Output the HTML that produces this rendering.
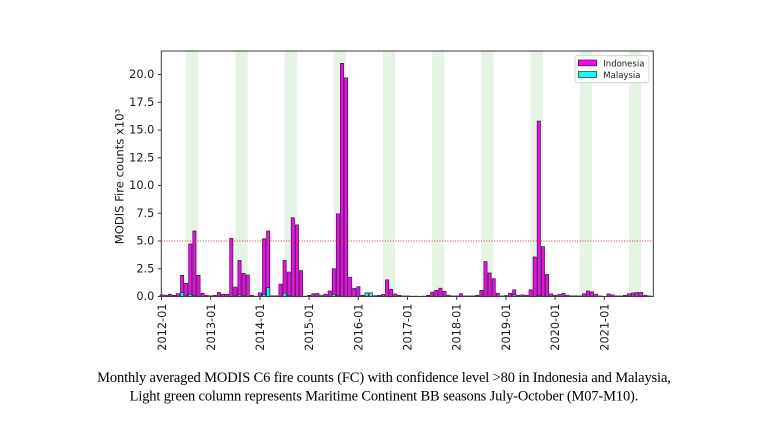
<!DOCTYPE html>
<html><head><meta charset="utf-8"><style>
html,body{margin:0;padding:0;background:#fff;}
svg{display:block;}
.i{fill:#ff00ff;stroke:#262626;stroke-width:0.7;vector-effect:non-scaling-stroke;}
.m{fill:#00ffff;stroke:#262626;stroke-width:0.7;vector-effect:non-scaling-stroke;}
.t{font-family:"DejaVu Sans","Liberation Sans",sans-serif;font-size:11.3px;fill:#1a1a1a;}
</style></head><body>
<svg width="768" height="432" viewBox="0 0 768 432" xmlns="http://www.w3.org/2000/svg">
<rect width="768" height="432" fill="#fff"/>
<!-- green seasons -->
<g transform="translate(161.5,0) scale(4.1,1)" fill="#e5f4e5">
<rect x="6" y="51" width="3" height="245.5"/>
<rect x="18" y="51" width="3" height="245.5"/>
<rect x="30" y="51" width="3" height="245.5"/>
<rect x="42" y="51" width="3" height="245.5"/>
<rect x="54" y="51" width="3" height="245.5"/>
<rect x="66" y="51" width="3" height="245.5"/>
<rect x="78" y="51" width="3" height="245.5"/>
<rect x="90" y="51" width="3" height="245.5"/>
<rect x="102" y="51" width="3" height="245.5"/>
<rect x="114" y="51" width="3" height="245.5"/>
</g>
<!-- Indonesia bars -->
<g transform="translate(160,296.5) scale(4.1,-11.1)">
<rect class="i" x="0" y="0" width="0.78" height="0.15"/>
<rect class="i" x="1" y="0" width="0.78" height="0.12"/>
<rect class="i" x="2" y="0" width="0.78" height="0.2"/>
<rect class="i" x="3" y="0" width="0.78" height="0.1"/>
<rect class="i" x="4" y="0" width="0.78" height="0.25"/>
<rect class="i" x="5" y="0" width="0.78" height="1.9"/>
<rect class="i" x="6" y="0" width="0.78" height="1.18"/>
<rect class="i" x="7" y="0" width="0.78" height="4.73"/>
<rect class="i" x="8" y="0" width="0.78" height="5.9"/>
<rect class="i" x="9" y="0" width="0.78" height="1.9"/>
<rect class="i" x="10" y="0" width="0.78" height="0.3"/>
<rect class="i" x="11" y="0" width="0.78" height="0.12"/>
<rect class="i" x="12" y="0" width="0.78" height="0.06"/>
<rect class="i" x="13" y="0" width="0.78" height="0.1"/>
<rect class="i" x="14" y="0" width="0.78" height="0.36"/>
<rect class="i" x="15" y="0" width="0.78" height="0.2"/>
<rect class="i" x="16" y="0" width="0.78" height="0.2"/>
<rect class="i" x="17" y="0" width="0.78" height="5.24"/>
<rect class="i" x="18" y="0" width="0.78" height="0.85"/>
<rect class="i" x="19" y="0" width="0.78" height="3.24"/>
<rect class="i" x="20" y="0" width="0.78" height="2.09"/>
<rect class="i" x="21" y="0" width="0.78" height="1.94"/>
<rect class="i" x="22" y="0" width="0.78" height="0.12"/>
<rect class="i" x="23" y="0" width="0.78" height="0.03"/>
<rect class="i" x="24" y="0" width="0.78" height="0.33"/>
<rect class="i" x="25" y="0" width="0.78" height="5.2"/>
<rect class="i" x="26" y="0" width="0.78" height="5.9"/>
<rect class="i" x="27" y="0" width="0.78" height="0.06"/>
<rect class="i" x="28" y="0" width="0.78" height="0.06"/>
<rect class="i" x="29" y="0" width="0.78" height="1.12"/>
<rect class="i" x="30" y="0" width="0.78" height="3.24"/>
<rect class="i" x="31" y="0" width="0.78" height="2.2"/>
<rect class="i" x="32" y="0" width="0.78" height="7.1"/>
<rect class="i" x="33" y="0" width="0.78" height="6.45"/>
<rect class="i" x="34" y="0" width="0.78" height="2.33"/>
<rect class="i" x="35" y="0" width="0.78" height="0.03"/>
<rect class="i" x="36" y="0" width="0.78" height="0.1"/>
<rect class="i" x="37" y="0" width="0.78" height="0.25"/>
<rect class="i" x="38" y="0" width="0.78" height="0.27"/>
<rect class="i" x="39" y="0" width="0.78" height="0.1"/>
<rect class="i" x="40" y="0" width="0.78" height="0.2"/>
<rect class="i" x="41" y="0" width="0.78" height="0.5"/>
<rect class="i" x="42" y="0" width="0.78" height="2.5"/>
<rect class="i" x="43" y="0" width="0.78" height="7.45"/>
<rect class="i" x="44" y="0" width="0.78" height="21.0"/>
<rect class="i" x="45" y="0" width="0.78" height="19.7"/>
<rect class="i" x="46" y="0" width="0.78" height="1.74"/>
<rect class="i" x="47" y="0" width="0.78" height="0.72"/>
<rect class="i" x="48" y="0" width="0.78" height="0.88"/>
<rect class="i" x="49" y="0" width="0.78" height="0.1"/>
<rect class="i" x="50" y="0" width="0.78" height="0.2"/>
<rect class="i" x="51" y="0" width="0.78" height="0.2"/>
<rect class="i" x="52" y="0" width="0.78" height="0.07"/>
<rect class="i" x="53" y="0" width="0.78" height="0.1"/>
<rect class="i" x="54" y="0" width="0.78" height="0.18"/>
<rect class="i" x="55" y="0" width="0.78" height="1.5"/>
<rect class="i" x="56" y="0" width="0.78" height="0.64"/>
<rect class="i" x="57" y="0" width="0.78" height="0.23"/>
<rect class="i" x="58" y="0" width="0.78" height="0.1"/>
<rect class="i" x="59" y="0" width="0.78" height="0.05"/>
<rect class="i" x="60" y="0" width="0.78" height="0.05"/>
<rect class="i" x="61" y="0" width="0.78" height="0.03"/>
<rect class="i" x="62" y="0" width="0.78" height="0.03"/>
<rect class="i" x="63" y="0" width="0.78" height="0.02"/>
<rect class="i" x="64" y="0" width="0.78" height="0.03"/>
<rect class="i" x="65" y="0" width="0.78" height="0.1"/>
<rect class="i" x="66" y="0" width="0.78" height="0.4"/>
<rect class="i" x="67" y="0" width="0.78" height="0.55"/>
<rect class="i" x="68" y="0" width="0.78" height="0.75"/>
<rect class="i" x="69" y="0" width="0.78" height="0.45"/>
<rect class="i" x="70" y="0" width="0.78" height="0.12"/>
<rect class="i" x="71" y="0" width="0.78" height="0.05"/>
<rect class="i" x="72" y="0" width="0.78" height="0.05"/>
<rect class="i" x="73" y="0" width="0.78" height="0.25"/>
<rect class="i" x="74" y="0" width="0.78" height="0.05"/>
<rect class="i" x="75" y="0" width="0.78" height="0.05"/>
<rect class="i" x="76" y="0" width="0.78" height="0.05"/>
<rect class="i" x="77" y="0" width="0.78" height="0.12"/>
<rect class="i" x="78" y="0" width="0.78" height="0.55"/>
<rect class="i" x="79" y="0" width="0.78" height="3.14"/>
<rect class="i" x="80" y="0" width="0.78" height="2.12"/>
<rect class="i" x="81" y="0" width="0.78" height="1.6"/>
<rect class="i" x="82" y="0" width="0.78" height="0.3"/>
<rect class="i" x="83" y="0" width="0.78" height="0.05"/>
<rect class="i" x="84" y="0" width="0.78" height="0.08"/>
<rect class="i" x="85" y="0" width="0.78" height="0.3"/>
<rect class="i" x="86" y="0" width="0.78" height="0.6"/>
<rect class="i" x="87" y="0" width="0.78" height="0.12"/>
<rect class="i" x="88" y="0" width="0.78" height="0.15"/>
<rect class="i" x="89" y="0" width="0.78" height="0.12"/>
<rect class="i" x="90" y="0" width="0.78" height="0.6"/>
<rect class="i" x="91" y="0" width="0.78" height="3.56"/>
<rect class="i" x="92" y="0" width="0.78" height="15.8"/>
<rect class="i" x="93" y="0" width="0.78" height="4.5"/>
<rect class="i" x="94" y="0" width="0.78" height="1.98"/>
<rect class="i" x="95" y="0" width="0.78" height="0.24"/>
<rect class="i" x="96" y="0" width="0.78" height="0.12"/>
<rect class="i" x="97" y="0" width="0.78" height="0.18"/>
<rect class="i" x="98" y="0" width="0.78" height="0.3"/>
<rect class="i" x="99" y="0" width="0.78" height="0.12"/>
<rect class="i" x="100" y="0" width="0.78" height="0.06"/>
<rect class="i" x="101" y="0" width="0.78" height="0.06"/>
<rect class="i" x="102" y="0" width="0.78" height="0.05"/>
<rect class="i" x="103" y="0" width="0.78" height="0.24"/>
<rect class="i" x="104" y="0" width="0.78" height="0.5"/>
<rect class="i" x="105" y="0" width="0.78" height="0.42"/>
<rect class="i" x="106" y="0" width="0.78" height="0.2"/>
<rect class="i" x="107" y="0" width="0.78" height="0.05"/>
<rect class="i" x="108" y="0" width="0.78" height="0.02"/>
<rect class="i" x="109" y="0" width="0.78" height="0.24"/>
<rect class="i" x="110" y="0" width="0.78" height="0.15"/>
<rect class="i" x="111" y="0" width="0.78" height="0.05"/>
<rect class="i" x="112" y="0" width="0.78" height="0.05"/>
<rect class="i" x="113" y="0" width="0.78" height="0.1"/>
<rect class="i" x="114" y="0" width="0.78" height="0.24"/>
<rect class="i" x="115" y="0" width="0.78" height="0.33"/>
<rect class="i" x="116" y="0" width="0.78" height="0.36"/>
<rect class="i" x="117" y="0" width="0.78" height="0.36"/>
<rect class="i" x="118" y="0" width="0.78" height="0.12"/>
<rect class="i" x="119" y="0" width="0.78" height="0.05"/>
<!-- Malaysia -->
<rect class="m" x="5" y="0" width="0.78" height="0.35"/>
<rect class="m" x="6" y="0" width="0.78" height="0.05"/>
<rect class="m" x="7" y="0" width="0.78" height="0.2"/>
<rect class="m" x="8" y="0" width="0.78" height="0.1"/>
<rect class="m" x="18" y="0" width="0.78" height="0.05"/>
<rect class="m" x="19" y="0" width="0.78" height="0.15"/>
<rect class="m" x="20" y="0" width="0.78" height="0.05"/>
<rect class="m" x="25" y="0" width="0.78" height="0.2"/>
<rect class="m" x="26" y="0" width="0.78" height="0.8"/>
<rect class="m" x="30" y="0" width="0.78" height="0.3"/>
<rect class="m" x="31" y="0" width="0.78" height="0.1"/>
<rect class="m" x="39" y="0" width="0.78" height="0.12"/>
<rect class="m" x="42" y="0" width="0.78" height="0.2"/>
<rect class="m" x="43" y="0" width="0.78" height="0.1"/>
<rect class="m" x="50" y="0" width="0.78" height="0.33"/>
<rect class="m" x="51" y="0" width="0.78" height="0.33"/>
<rect class="m" x="86" y="0" width="0.78" height="0.15"/>
<rect class="m" x="92" y="0" width="0.78" height="0.1"/>
</g>
<!-- red dotted line -->
<line x1="161.3" y1="241" x2="653.3" y2="241" stroke="#e8282b" stroke-width="1" stroke-dasharray="1,1.6"/>
<!-- axes frame -->
<rect x="161.3" y="51" width="492" height="245.5" fill="none" stroke="#3a3a3a" stroke-width="1"/>
<!-- y ticks -->
<g stroke="#3a3a3a" stroke-width="1">
<line x1="157.8" y1="296.5" x2="161.3" y2="296.5"/>
<line x1="157.8" y1="268.75" x2="161.3" y2="268.75"/>
<line x1="157.8" y1="241" x2="161.3" y2="241"/>
<line x1="157.8" y1="213.25" x2="161.3" y2="213.25"/>
<line x1="157.8" y1="185.5" x2="161.3" y2="185.5"/>
<line x1="157.8" y1="157.75" x2="161.3" y2="157.75"/>
<line x1="157.8" y1="130" x2="161.3" y2="130"/>
<line x1="157.8" y1="102.25" x2="161.3" y2="102.25"/>
<line x1="157.8" y1="74.5" x2="161.3" y2="74.5"/>
</g>
<g class="t" text-anchor="end" dominant-baseline="central">
<text x="154.3" y="296.5">0.0</text>
<text x="154.3" y="268.75">2.5</text>
<text x="154.3" y="241">5.0</text>
<text x="154.3" y="213.25">7.5</text>
<text x="154.3" y="185.5">10.0</text>
<text x="154.3" y="157.75">12.5</text>
<text x="154.3" y="130">15.0</text>
<text x="154.3" y="102.25">17.5</text>
<text x="154.3" y="74.5">20.0</text>
</g>
<!-- x ticks -->
<g stroke="#3a3a3a" stroke-width="1">
<line x1="161.5" y1="296.5" x2="161.5" y2="300"/>
<line x1="210.7" y1="296.5" x2="210.7" y2="300"/>
<line x1="259.9" y1="296.5" x2="259.9" y2="300"/>
<line x1="309.1" y1="296.5" x2="309.1" y2="300"/>
<line x1="358.3" y1="296.5" x2="358.3" y2="300"/>
<line x1="407.5" y1="296.5" x2="407.5" y2="300"/>
<line x1="456.7" y1="296.5" x2="456.7" y2="300"/>
<line x1="505.9" y1="296.5" x2="505.9" y2="300"/>
<line x1="555.1" y1="296.5" x2="555.1" y2="300"/>
<line x1="604.3" y1="296.5" x2="604.3" y2="300"/>
</g>
<g class="t" text-anchor="end" dominant-baseline="central">
<text transform="translate(162.5,303.5) rotate(-90)">2012-01</text>
<text transform="translate(211.3,303.5) rotate(-90)">2013-01</text>
<text transform="translate(260.3,303.5) rotate(-90)">2014-01</text>
<text transform="translate(309.6,303.5) rotate(-90)">2015-01</text>
<text transform="translate(358.9,303.5) rotate(-90)">2016-01</text>
<text transform="translate(407.8,303.5) rotate(-90)">2017-01</text>
<text transform="translate(457.1,303.5) rotate(-90)">2018-01</text>
<text transform="translate(506.4,303.5) rotate(-90)">2019-01</text>
<text transform="translate(555.6,303.5) rotate(-90)">2020-01</text>
<text transform="translate(604.8,303.5) rotate(-90)">2021-01</text>
</g>
<!-- y label -->
<text class="t" style="font-size:11.6px" text-anchor="middle" dominant-baseline="central" transform="translate(119.5,176.5) rotate(-90)">MODIS Fire counts x10³</text>
<!-- legend -->
<rect x="575" y="55.7" width="74" height="27" rx="2" ry="2" fill="#fff" fill-opacity="0.85" stroke="#cccccc" stroke-width="0.8"/>
<rect x="578.3" y="60" width="18.4" height="5.8" fill="#ff00ff" stroke="#262626" stroke-width="0.7"/>
<rect x="578.3" y="71.6" width="18.4" height="5.8" fill="#00ffff" stroke="#262626" stroke-width="0.7"/>
<g font-family="DejaVu Sans, Liberation Sans, sans-serif" font-size="8.5" fill="#1a1a1a">
<text x="603.3" y="66.4">Indonesia</text>
<text x="603.3" y="78">Malaysia</text>
</g>
<!-- caption -->
<g font-family="Liberation Serif, serif" font-size="14.5" fill="#000" text-anchor="middle">
<text x="384" y="382" textLength="573.7" lengthAdjust="spacing">Monthly averaged MODIS C6 fire counts (FC) with confidence level &gt;80 in Indonesia and Malaysia,</text>
<text x="384" y="400.5" textLength="508.7" lengthAdjust="spacing">Light green column represents Maritime Continent BB seasons July-October (M07-M10).</text>
</g>
</svg>
</body></html>
